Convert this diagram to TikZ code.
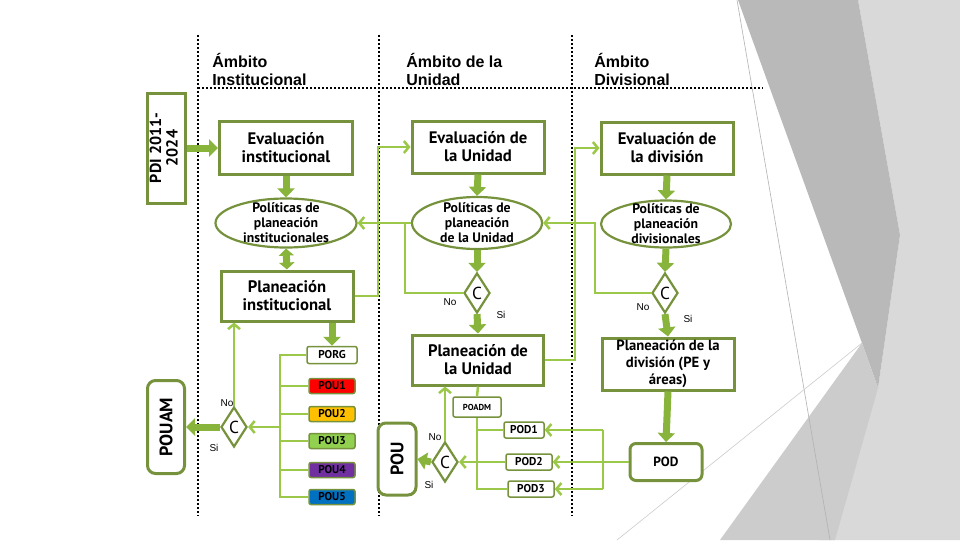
\documentclass[tikz,border=0pt]{standalone}
\usepackage{fontspec}
\setmainfont{Liberation Sans}
\newfontfamily\boxfont{PT Sans}[BoldFont={PT Sans Bold}]
\newfontfamily\titfont{Liberation Sans}[UprightFont={* Bold}]
\usetikzlibrary{arrows.meta,shapes.geometric}
\newdimen\upx \upx=0.75pt
\definecolor{olivo}{HTML}{76923C}
\definecolor{lima}{HTML}{9CC84A}
\definecolor{pasto}{HTML}{88B43B}
\definecolor{pourojo}{HTML}{FF0000}
\definecolor{pouamar}{HTML}{FFC000}
\definecolor{pouverde}{HTML}{92D050}
\definecolor{poumora}{HTML}{7030A0}
\definecolor{pouazul}{HTML}{0070C0}
\begin{document}
\begin{tikzpicture}[x=0.75pt,y=-0.75pt,>={Straight Barb[length=3.75pt,width=9pt]},
  caja/.style={draw=olivo,line width=3\upx,fill=white,align=center,inner sep=0pt,font=\boxfont\bfseries\fontsize{12.5}{13.5}\selectfont},
  elip/.style={ellipse,draw=olivo,line width=2.2\upx,fill=white,inner sep=0pt},
  eliptxt/.style={align=center,inner sep=0pt,font=\boxfont\bfseries\fontsize{10.3}{11.25}\selectfont},
  rombo/.style={diamond,draw=olivo,line width=2.2\upx,fill=white,minimum width=26\upx,minimum height=40\upx,inner sep=0pt,font=\boxfont\fontsize{13}{13}\selectfont},
  etq/.style={draw=olivo,line width=1.5\upx,rounded corners=2\upx,inner sep=0pt,font=\boxfont\bfseries\fontsize{8.5}{9}\selectfont},
  vert/.style={draw=olivo,line width=3\upx,rounded corners=8\upx,fill=white,inner sep=0pt,font=\boxfont\bfseries\fontsize{13.5}{14}\selectfont},
  enlace/.style={draw=lima,line width=2.5\upx},
  grueso/.style={draw=pasto,line width=7\upx,-{Triangle[length=6.75pt,width=12.75pt]}},
  sino/.style={inner sep=0pt,font=\fontsize{7.5}{8}\selectfont},
  titulo/.style={anchor=north west,align=left,inner sep=0pt,font=\titfont\fontsize{12}{13.5}\selectfont},
  puntos/.style={line width=1.65pt,dash pattern=on 1.5pt off 1.5pt}]
  \useasboundingbox (0,0) rectangle (960,540);
  \fill[white] (0,0) rectangle (960,540);
  % fondo
  \fill[gray!30] (858,0) -- (960,0) -- (960,540) -- (820,540) -- (878,388) -- (900,235) -- cycle;
  \fill[gray!55] (738,0) -- (858,0) -- (900,235) -- (878,388) -- (862,343) -- cycle;
  \fill[gray!40] (720,540) -- (862,343) -- (878,388) -- (835,540) -- cycle;
  \draw[gray!60,line width=0.45pt] (737,0) -- (830,540);
  \draw[gray!40,line width=0.45pt] (617,540) -- (862,343);
  % ambitos
  \draw[puntos] (198,35) -- (198,516);
  \draw[puntos] (379,35) -- (379,516);
  \draw[puntos] (572,35) -- (572,516);
  \draw[puntos] (198,88) -- (763,88);
  \node[titulo] (t-inst) at (212,53) {Ámbito\\Institucional};
  \node[titulo] (t-unid) at (406,53) {Ámbito de la\\Unidad};
  \node[titulo] (t-div) at (594,53) {Ámbito\\Divisional};
  % institucional
  \node[caja,minimum width=38\upx,minimum height=110\upx] (pdi) at (166,148) {\rotatebox{90}{\fontsize{12}{12.5}\selectfont\begin{tabular}{@{}c@{}}PDI 2011-\\2024\end{tabular}}};
  \node[caja,minimum width=133\upx,minimum height=53\upx] (evi) at (286,148) {Evaluación\\institucional};
  \node[elip,minimum width=141\upx,minimum height=49\upx] (poli) at (286,223) {};
  \node[eliptxt] (poli-t) at (poli) {Políticas de\\planeación\\institucionales};
  \node[caja,minimum width=132\upx,minimum height=50\upx] (pli) at (287,296) {Planeación\\institucional};
  \node[etq,fill=white,minimum width=50\upx,minimum height=17\upx] (porg) at (332,355) {PORG};
  \node[etq,fill=pourojo,minimum width=46\upx,minimum height=15\upx] (pou1) at (332,386) {POU1};
  \node[etq,fill=pouamar,minimum width=46\upx,minimum height=15\upx] (pou2) at (332,414) {POU2};
  \node[etq,fill=pouverde,minimum width=46\upx,minimum height=15\upx] (pou3) at (332,441) {POU3};
  \node[etq,fill=poumora,minimum width=46\upx,minimum height=15\upx] (pou4) at (332,470) {POU4};
  \node[etq,fill=pouazul,minimum width=46\upx,minimum height=15\upx] (pou5) at (332,497) {POU5};
  \node[rombo] (ci) at (234,427) {C};
  \node[sino] (ci-no) at (227,403) {No};
  \node[sino] (ci-si) at (214,448) {Si};
  \node[vert,minimum width=37\upx,minimum height=93\upx] (pouam) at (166,427) {\rotatebox{90}{POUAM}};
  % unidad
  \node[caja,minimum width=132\upx,minimum height=52\upx] (evu) at (478,147) {Evaluación de\\la Unidad};
  \node[elip,minimum width=130\upx,minimum height=52\upx] (polu) at (477,223) {};
  \node[eliptxt] (polu-t) at (polu) {Políticas de\\planeación\\de la Unidad};
  \node[rombo] (cu) at (477,293) {C};
  \node[sino] (cu-no) at (450,302) {No};
  \node[sino] (cu-si) at (501,315) {Si};
  \node[caja,minimum width=131\upx,minimum height=50\upx] (plu) at (478,360) {Planeación de\\la Unidad};
  \node[etq,fill=white,minimum width=48\upx,minimum height=20\upx,font=\boxfont\bfseries\fontsize{6.5}{7}\selectfont] (poadm) at (477,407) {POADM};
  \node[etq,fill=white,minimum width=40\upx,minimum height=16\upx] (pod1) at (524,430) {POD1};
  \node[etq,fill=white,minimum width=46\upx,minimum height=16\upx] (pod2) at (529,462) {POD2};
  \node[etq,fill=white,minimum width=46\upx,minimum height=16\upx] (pod3) at (531,489) {POD3};
  \node[rombo] (cu2) at (445,462) {C};
  \node[sino] (cu2-no) at (435,437) {No};
  \node[sino] (cu2-si) at (429,485) {Si};
  \node[vert,minimum width=38\upx,minimum height=72\upx] (pou) at (397,459) {\rotatebox{90}{POU}};
  % division
  \node[caja,minimum width=132\upx,minimum height=52\upx] (evd) at (667,148) {Evaluación de\\la división};
  \node[elip,minimum width=130\upx,minimum height=47\upx] (pold) at (666,224) {};
  \node[eliptxt] (pold-t) at (pold) {Políticas de\\planeación\\divisionales};
  \node[rombo] (cd) at (665,293) {C};
  \node[sino] (cd-no) at (643,307) {No};
  \node[sino] (cd-si) at (688,319) {Si};
  \node[caja,minimum width=132\upx,minimum height=52\upx,font=\boxfont\bfseries\fontsize{11}{12.75}\selectfont] (pld) at (668,364) {Planeación de la\\división (PE y\\áreas)};
  \node[vert,rounded corners=6\upx,minimum width=72\upx,minimum height=37\upx,font=\boxfont\bfseries\fontsize{10}{10}\selectfont] (pod) at (666,462) {POD};
  % conectores institucional
  \draw[grueso] (pdi.east) -- (evi.west);
  \draw[grueso] (evi.south) -- (poli.north);
  \draw[grueso,{Triangle[length=5.25pt,width=11.25pt]}-{Triangle[length=5.25pt,width=11.25pt]}] (poli.south) -- (pli.north);
  \draw[grueso] (porg.north |- pli.south) -- (porg.north);
  \coordinate (busi) at (280,427);
  \draw[enlace] (porg.west) -| (pou5.west -| busi) -- (pou5.west);
  \foreach \p in {pou1,pou2,pou3,pou4}
    \draw[enlace] (\p.west) -- (\p.west -| busi);
  \draw[enlace,->] (busi) -- (ci.east);
  \draw[enlace,->] (ci.north) -- (ci.north |- pli.south);
  \draw[grueso] (ci.west) -- (pouam.east);
  \coordinate (fbi) at (378,0);
  \draw[enlace,->] (pli.east) -| (fbi |- evu.west) -- (evu.west);
  % conectores unidad
  \draw[enlace,->] (polu.west) -- (poli.east);
  \coordinate (nou) at (405,0);
  \draw[enlace] (cu.west) -| (nou |- polu.west);
  \draw[grueso] (evu.south) -- (polu.north);
  \draw[grueso] (polu.south) -- (cu.north);
  \draw[grueso] (cu.south) -- (plu.north);
  \coordinate (fbu) at (575,0);
  \draw[enlace,->] (plu.east) -| (fbu |- evd.west) -- (evd.west);
  \draw[enlace] (plu.south) -- (poadm.north);
  \draw[enlace] (poadm.south) |- (pod3.west);
  \draw[enlace] (pod1.west) -- (pod1.west -| poadm.south);
  \draw[enlace,->] (pod2.west) -- (cu2.east);
  \draw[enlace,->] (cu2.north) -- (cu2.north |- plu.south);
  \draw[grueso] (cu2.west) -- (pou.east);
  % conectores division
  \draw[grueso] (evd.south) -- (pold.north);
  \draw[grueso] (pold.south) -- (cd.north);
  \draw[grueso] (cd.south) -- (pld.north);
  \draw[grueso] (pld.south) -- (pod.north);
  \coordinate (nod) at (595,0);
  \draw[enlace,->] (cd.west) -| (nod |- polu.east) -- (polu.east);
  \coordinate (bd) at (603,0);
  \draw[enlace,->] (pod.west) -- (pod2.east);
  \draw[enlace] (bd |- pod1.east) -- (bd |- pod3.east);
  \draw[enlace,->] (bd |- pod1.east) -- (pod1.east);
  \draw[enlace,->] (bd |- pod3.east) -- (pod3.east);
\end{tikzpicture}
\end{document}
